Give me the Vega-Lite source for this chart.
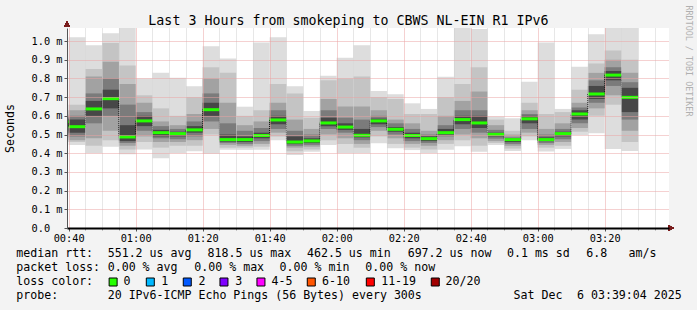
{
  "$schema": "https://vega.github.io/schema/vega-lite/v6.json",
  "background": "#f3f3f3",
  "padding": {"left": 4, "top": 5, "right": 5, "bottom": 8},
  "config": {"view": {"stroke": null}, "font": "DejaVu Sans Mono"},
  "bounds": "flush",
  "spacing": 12,
  "datasets": {
    "bars": [
      {"t0":35,"t1":40,"m":0.567,"a1":0.46,"b1":0.63,"a2":0.48,"b2":0.61,"a3":0.5,"b3":0.6,"a4":0.52,"b4":0.59,"a5":0.54,"b5":0.58},
      {"t0":40,"t1":45,"m":0.542,"a1":0.444,"b1":1.02,"a2":0.46,"b2":0.66,"a3":0.47,"b3":0.63,"a4":0.49,"b4":0.6,"a5":0.51,"b5":0.58},
      {"t0":45,"t1":50,"m":0.637,"a1":0.4,"b1":0.978,"a2":0.44,"b2":0.85,"a3":0.48,"b3":0.81,"a4":0.56,"b4":0.72,"a5":0.6,"b5":0.68},
      {"t0":50,"t1":55,"m":0.692,"a1":0.435,"b1":1.042,"a2":0.47,"b2":0.99,"a3":0.52,"b3":0.89,"a4":0.6,"b4":0.8,"a5":0.64,"b5":0.74},
      {"t0":55,"t1":60,"m":0.487,"a1":0.395,"b1":1.1,"a2":0.42,"b2":0.87,"a3":0.44,"b3":0.77,"a4":0.455,"b4":0.66,"a5":0.465,"b5":0.55},
      {"t0":60,"t1":65,"m":0.573,"a1":0.42,"b1":0.8,"a2":0.46,"b2":0.71,"a3":0.49,"b3":0.67,"a4":0.52,"b4":0.62,"a5":0.545,"b5":0.6},
      {"t0":65,"t1":70,"m":0.51,"a1":0.373,"b1":0.83,"a2":0.43,"b2":0.64,"a3":0.46,"b3":0.57,"a4":0.48,"b4":0.545,"a5":0.49,"b5":0.525},
      {"t0":70,"t1":75,"m":0.505,"a1":0.4,"b1":0.804,"a2":0.44,"b2":0.6,"a3":0.46,"b3":0.55,"a4":0.475,"b4":0.53,"a5":0.49,"b5":0.515},
      {"t0":75,"t1":80,"m":0.525,"a1":0.41,"b1":0.759,"a2":0.44,"b2":0.7,"a3":0.47,"b3":0.61,"a4":0.49,"b4":0.57,"a5":0.51,"b5":0.545},
      {"t0":80,"t1":85,"m":0.633,"a1":0.397,"b1":0.973,"a2":0.5,"b2":0.86,"a3":0.53,"b3":0.8,"a4":0.57,"b4":0.72,"a5":0.6,"b5":0.67},
      {"t0":85,"t1":90,"m":0.473,"a1":0.418,"b1":0.907,"a2":0.43,"b2":0.83,"a3":0.445,"b3":0.67,"a4":0.455,"b4":0.56,"a5":0.462,"b5":0.5},
      {"t0":90,"t1":95,"m":0.473,"a1":0.418,"b1":0.649,"a2":0.43,"b2":0.6,"a3":0.44,"b3":0.55,"a4":0.45,"b4":0.52,"a5":0.46,"b5":0.49},
      {"t0":95,"t1":100,"m":0.495,"a1":0.418,"b1":0.993,"a2":0.435,"b2":0.63,"a3":0.45,"b3":0.57,"a4":0.465,"b4":0.535,"a5":0.48,"b5":0.51},
      {"t0":100,"t1":105,"m":0.578,"a1":0.47,"b1":1.021,"a2":0.49,"b2":0.77,"a3":0.51,"b3":0.67,"a4":0.53,"b4":0.63,"a5":0.555,"b5":0.6},
      {"t0":105,"t1":110,"m":0.46,"a1":0.39,"b1":0.759,"a2":0.41,"b2":0.72,"a3":0.43,"b3":0.58,"a4":0.44,"b4":0.52,"a5":0.45,"b5":0.49},
      {"t0":110,"t1":115,"m":0.466,"a1":0.408,"b1":0.626,"a2":0.42,"b2":0.59,"a3":0.435,"b3":0.53,"a4":0.445,"b4":0.5,"a5":0.455,"b5":0.48},
      {"t0":115,"t1":120,"m":0.562,"a1":0.444,"b1":0.815,"a2":0.47,"b2":0.79,"a3":0.5,"b3":0.69,"a4":0.53,"b4":0.63,"a5":0.545,"b5":0.59},
      {"t0":120,"t1":125,"m":0.54,"a1":0.4,"b1":0.911,"a2":0.45,"b2":0.8,"a3":0.48,"b3":0.65,"a4":0.51,"b4":0.59,"a5":0.525,"b5":0.56},
      {"t0":125,"t1":130,"m":0.496,"a1":0.4,"b1":0.978,"a2":0.43,"b2":0.81,"a3":0.45,"b3":0.65,"a4":0.47,"b4":0.58,"a5":0.485,"b5":0.53},
      {"t0":130,"t1":135,"m":0.573,"a1":0.453,"b1":0.733,"a2":0.49,"b2":0.7,"a3":0.52,"b3":0.63,"a4":0.54,"b4":0.6,"a5":0.555,"b5":0.585},
      {"t0":135,"t1":140,"m":0.528,"a1":0.427,"b1":0.715,"a2":0.45,"b2":0.69,"a3":0.48,"b3":0.58,"a4":0.5,"b4":0.56,"a5":0.515,"b5":0.54},
      {"t0":140,"t1":145,"m":0.495,"a1":0.417,"b1":0.667,"a2":0.43,"b2":0.61,"a3":0.45,"b3":0.56,"a4":0.465,"b4":0.53,"a5":0.48,"b5":0.51},
      {"t0":145,"t1":150,"m":0.478,"a1":0.4,"b1":0.637,"a2":0.42,"b2":0.61,"a3":0.44,"b3":0.52,"a4":0.455,"b4":0.5,"a5":0.465,"b5":0.49},
      {"t0":150,"t1":155,"m":0.51,"a1":0.418,"b1":0.809,"a2":0.45,"b2":0.7,"a3":0.47,"b3":0.6,"a4":0.49,"b4":0.55,"a5":0.5,"b5":0.53},
      {"t0":155,"t1":160,"m":0.58,"a1":0.438,"b1":1.1,"a2":0.47,"b2":0.77,"a3":0.5,"b3":0.68,"a4":0.53,"b4":0.63,"a5":0.555,"b5":0.6},
      {"t0":160,"t1":165,"m":0.562,"a1":0.408,"b1":1.064,"a2":0.44,"b2":0.86,"a3":0.48,"b3":0.73,"a4":0.51,"b4":0.63,"a5":0.535,"b5":0.6},
      {"t0":165,"t1":170,"m":0.501,"a1":0.444,"b1":0.596,"a2":0.455,"b2":0.58,"a3":0.465,"b3":0.55,"a4":0.478,"b4":0.525,"a5":0.49,"b5":0.51},
      {"t0":170,"t1":175,"m":0.473,"a1":0.412,"b1":0.587,"a2":0.425,"b2":0.52,"a3":0.44,"b3":0.5,"a4":0.45,"b4":0.485,"a5":0.46,"b5":0.48},
      {"t0":175,"t1":180,"m":0.584,"a1":0.47,"b1":0.783,"a2":0.49,"b2":0.67,"a3":0.51,"b3":0.63,"a4":0.53,"b4":0.61,"a5":0.56,"b5":0.6},
      {"t0":180,"t1":185,"m":0.473,"a1":0.409,"b1":0.993,"a2":0.43,"b2":0.61,"a3":0.445,"b3":0.53,"a4":0.455,"b4":0.5,"a5":0.465,"b5":0.485},
      {"t0":185,"t1":190,"m":0.505,"a1":0.423,"b1":0.637,"a2":0.44,"b2":0.62,"a3":0.46,"b3":0.56,"a4":0.475,"b4":0.53,"a5":0.49,"b5":0.515},
      {"t0":190,"t1":195,"m":0.61,"a1":0.498,"b1":0.863,"a2":0.515,"b2":0.74,"a3":0.535,"b3":0.67,"a4":0.56,"b4":0.645,"a5":0.58,"b5":0.63},
      {"t0":195,"t1":200,"m":0.717,"a1":0.507,"b1":1.037,"a2":0.6,"b2":0.88,"a3":0.64,"b3":0.83,"a4":0.67,"b4":0.79,"a5":0.69,"b5":0.76},
      {"t0":200,"t1":205,"m":0.818,"a1":0.423,"b1":1.1,"a2":0.66,"b2":0.95,"a3":0.71,"b3":0.9,"a4":0.76,"b4":0.86,"a5":0.79,"b5":0.84},
      {"t0":205,"t1":210,"m":0.699,"a1":0.412,"b1":1.1,"a2":0.46,"b2":0.9,"a3":0.52,"b3":0.83,"a4":0.58,"b4":0.78,"a5":0.62,"b5":0.75}
    ]
  },
  "vconcat": [
    {
      "width": 602,
      "height": 200,
      "view": {"fill": "#ffffff", "stroke": null},
      "data": {"name": "bars"},
      "resolve": {"axis": {"x": "independent", "y": "independent"}},
      "layer": [
        {
          "mark": {"type": "rect", "color": "#dddddd", "clip": true},
          "encoding": {
            "x": {"field": "t0", "type": "quantitative",
              "scale": {"domain": [39.5, 219.2], "nice": false, "zero": false},
              "axis": {"orient": "bottom", "title": null, "values": [40, 60, 80, 100, 120, 140, 160, 180, 200],
                "labelExpr": "pad(toString(floor(datum.value / 60)), 2, '0', 'left') + ':' + pad(toString(datum.value % 60), 2, '0', 'left')",
                "labelFont": "DejaVu Sans Mono", "labelFontSize": 10.3, "labelColor": "#000000", "labelPadding": 2,
                "grid": true, "gridColor": "#eba3a3", "gridDash": [1, 1], "gridWidth": 1,
                "domain": true, "domainColor": "#000000", "domainWidth": 2,
                "ticks": true, "tickSize": 3, "tickColor": "#555555", "zindex": 2, "labelFlush": false}},
            "x2": {"field": "t1"},
            "y": {"field": "a1", "type": "quantitative",
              "scale": {"domain": [0, 1.07], "nice": false, "zero": false},
              "axis": {"orient": "left", "values": [0, 0.1, 0.2, 0.3, 0.4, 0.5, 0.6, 0.7, 0.8, 0.9, 1.0],
                "labelExpr": "datum.value == 0 ? '0.0' : format(datum.value, '.1f') + ' m'",
                "labelFont": "DejaVu Sans Mono", "labelFontSize": 10.3, "labelColor": "#000000",
                "labelAlign": "left", "labelBaseline": "middle", "labelPadding": 33,
                "grid": true, "gridColor": "#eba3a3", "gridDash": [1, 1], "gridWidth": 1,
                "domain": true, "domainColor": "#555555", "domainWidth": 1,
                "ticks": true, "tickSize": 3, "tickColor": "#555555", "zindex": 2,
                "title": "Seconds", "titleFont": "DejaVu Sans Mono", "titleFontSize": 11.6, "titleFontWeight": "normal",
                "titleColor": "#000000", "titleAngle": -90, "titleX": -56.7, "titleY": 100,
                "titleAlign": "center", "titleBaseline": "middle"}},
            "y2": {"field": "b1"}
          }
        },
        {
          "mark": {"type": "rect", "color": "#c4c4c4", "clip": true},
          "encoding": {
            "x": {"field": "t0", "type": "quantitative", "axis": null},
            "x2": {"field": "t1"},
            "y": {"field": "a2", "type": "quantitative", "axis": null},
            "y2": {"field": "b2"}
          }
        },
        {
          "mark": {"type": "rect", "color": "#a2a2a2", "clip": true},
          "encoding": {
            "x": {"field": "t0", "type": "quantitative", "axis": null},
            "x2": {"field": "t1"},
            "y": {"field": "a3", "type": "quantitative", "axis": null},
            "y2": {"field": "b3"}
          }
        },
        {
          "mark": {"type": "rect", "color": "#7b7b7b", "clip": true},
          "encoding": {
            "x": {"field": "t0", "type": "quantitative", "axis": null},
            "x2": {"field": "t1"},
            "y": {"field": "a4", "type": "quantitative", "axis": null},
            "y2": {"field": "b4"}
          }
        },
        {
          "mark": {"type": "rect", "color": "#474747", "clip": true},
          "encoding": {
            "x": {"field": "t0", "type": "quantitative", "axis": null},
            "x2": {"field": "t1"},
            "y": {"field": "a5", "type": "quantitative", "axis": null},
            "y2": {"field": "b5"}
          }
        },
        {
          "mark": {"type": "line", "interpolate": "step-after", "color": "#000000", "strokeWidth": 1, "strokeDash": [1, 1], "clip": true},
          "encoding": {
            "x": {"field": "t0", "type": "quantitative",
              "axis": {"orient": "bottom", "title": null,
                "values": [45, 50, 55, 65, 70, 75, 85, 90, 95, 105, 110, 115, 125, 130, 135, 145, 150, 155, 165, 170, 175, 185, 190, 195, 205, 210, 215],
                "labels": false,
                "grid": true, "gridColor": "#cfcfcf", "gridDash": [1, 1], "gridWidth": 1,
                "domain": false, "ticks": true, "tickSize": 2, "tickColor": "#999999", "zindex": 1}},
            "y": {"field": "m", "type": "quantitative",
              "axis": {"orient": "right", "grid": false, "ticks": false, "labels": false, "domain": false,
                "title": "RRDTOOL / TOBI OETIKER", "titleFont": "DejaVu Sans Mono", "titleFontSize": 8.4,
                "titleFontWeight": "normal", "titleColor": "#b0b0b0", "titleAngle": 90,
                "titleAlign": "left", "titleBaseline": "middle", "titleX": 19, "titleY": -23}}
          }
        },
        {
          "mark": {"type": "rule", "color": "#26ff00", "strokeWidth": 3, "clip": true},
          "encoding": {
            "x": {"field": "t0", "type": "quantitative",
              "axis": {"orient": "top", "labels": false, "ticks": false, "domain": false, "grid": false,
                "title": "Last 3 Hours from smokeping to CBWS NL-EIN R1 IPv6",
                "titleFont": "DejaVu Sans Mono", "titleFontSize": 13.3, "titleFontWeight": "normal",
                "titleColor": "#000000", "titleX": 281, "titleY": -4, "titleAlign": "center", "titleBaseline": "alphabetic"}},
            "x2": {"field": "t1"},
            "y": {"field": "m", "type": "quantitative", "axis": null}
          }
        },
        {
          "mark": {"type": "point", "shape": "triangle-up", "filled": true, "size": 35, "color": "#7a1c1c", "opacity": 1, "yOffset": -4},
          "encoding": {
            "x": {"datum": 39.5, "type": "quantitative", "axis": null},
            "y": {"datum": 1.07, "type": "quantitative", "axis": null}
          }
        },
        {
          "mark": {"type": "point", "shape": "triangle-right", "filled": true, "size": 35, "color": "#7a1c1c", "opacity": 1, "xOffset": 2},
          "encoding": {
            "x": {"datum": 219.2, "type": "quantitative", "axis": null},
            "y": {"datum": 0, "type": "quantitative", "axis": null}
          }
        }
      ]
    },
    {
      "width": 602,
      "height": 56,
      "view": {"stroke": null},
      "layer": [
        {
          "data": {"values": [
            {"row": 1, "col": 0, "txt": "median rtt:"},
            {"row": 1, "col": 13.0, "txt": "551.2 us avg"},
            {"row": 1, "col": 27.2, "txt": "818.5 us max"},
            {"row": 1, "col": 41.35, "txt": "462.5 us min"},
            {"row": 1, "col": 55.67, "txt": "697.2 us now"},
            {"row": 1, "col": 69.8, "txt": "0.1 ms sd"},
            {"row": 1, "col": 81.08, "txt": "6.8"},
            {"row": 1, "col": 87.1, "txt": "am/s"},
            {"row": 2, "col": 0, "txt": "packet loss:"},
            {"row": 2, "col": 13.0, "txt": "0.00 % avg"},
            {"row": 2, "col": 25.32, "txt": "0.00 % max"},
            {"row": 2, "col": 37.45, "txt": "0.00 % min"},
            {"row": 2, "col": 49.65, "txt": "0.00 % now"},
            {"row": 3, "col": 0, "txt": "loss color:"},
            {"row": 3, "col": 15.26, "txt": "0"},
            {"row": 3, "col": 20.63, "txt": "1"},
            {"row": 3, "col": 25.9, "txt": "2"},
            {"row": 3, "col": 31.15, "txt": "3"},
            {"row": 3, "col": 36.3, "txt": "4-5"},
            {"row": 3, "col": 43.5, "txt": "6-10"},
            {"row": 3, "col": 51.9, "txt": "11-19"},
            {"row": 3, "col": 61.07, "txt": "20/20"},
            {"row": 4, "col": 0, "txt": "probe:"},
            {"row": 4, "col": 13.0, "txt": "20 IPv6-ICMP Echo Pings (56 Bytes) every 300s"},
            {"row": 4, "col": 70.74, "txt": "Sat Dec"},
            {"row": 4, "col": 79.76, "txt": "6 03:39:04 2025"}
          ]},
          "mark": {"type": "text", "align": "left", "baseline": "middle", "font": "DejaVu Sans Mono", "fontSize": 11.6, "color": "#000000"},
          "encoding": {
            "x": {"field": "col", "type": "quantitative", "scale": {"domain": [7.21, 92.85], "nice": false, "zero": false}, "axis": null},
            "y": {"field": "row", "type": "quantitative", "scale": {"domain": [0, 4], "reverse": true, "nice": false, "zero": false}, "axis": null},
            "text": {"field": "txt"}
          }
        },
        {
          "data": {"values": [
            {"row": 3, "col": 13.77, "lab": "0"},
            {"row": 3, "col": 19.06, "lab": "1"},
            {"row": 3, "col": 24.32, "lab": "2"},
            {"row": 3, "col": 29.54, "lab": "3"},
            {"row": 3, "col": 34.8, "lab": "4-5"},
            {"row": 3, "col": 41.96, "lab": "6-10"},
            {"row": 3, "col": 50.36, "lab": "11-19"},
            {"row": 3, "col": 59.6, "lab": "20/20"}
          ]},
          "mark": {"type": "point", "shape": "square", "filled": true, "size": 64, "stroke": "#000000", "strokeWidth": 1, "opacity": 1},
          "encoding": {
            "x": {"field": "col", "type": "quantitative", "axis": null},
            "y": {"field": "row", "type": "quantitative", "axis": null},
            "fill": {"field": "lab", "type": "nominal",
              "scale": {"domain": ["0", "1", "2", "3", "4-5", "6-10", "11-19", "20/20"],
                "range": ["#26ff00", "#00b8ff", "#0059ff", "#7e00ff", "#ff00ff", "#ff5500", "#ff0000", "#a10000"]},
              "legend": null}
          }
        }
      ]
    }
  ]
}
